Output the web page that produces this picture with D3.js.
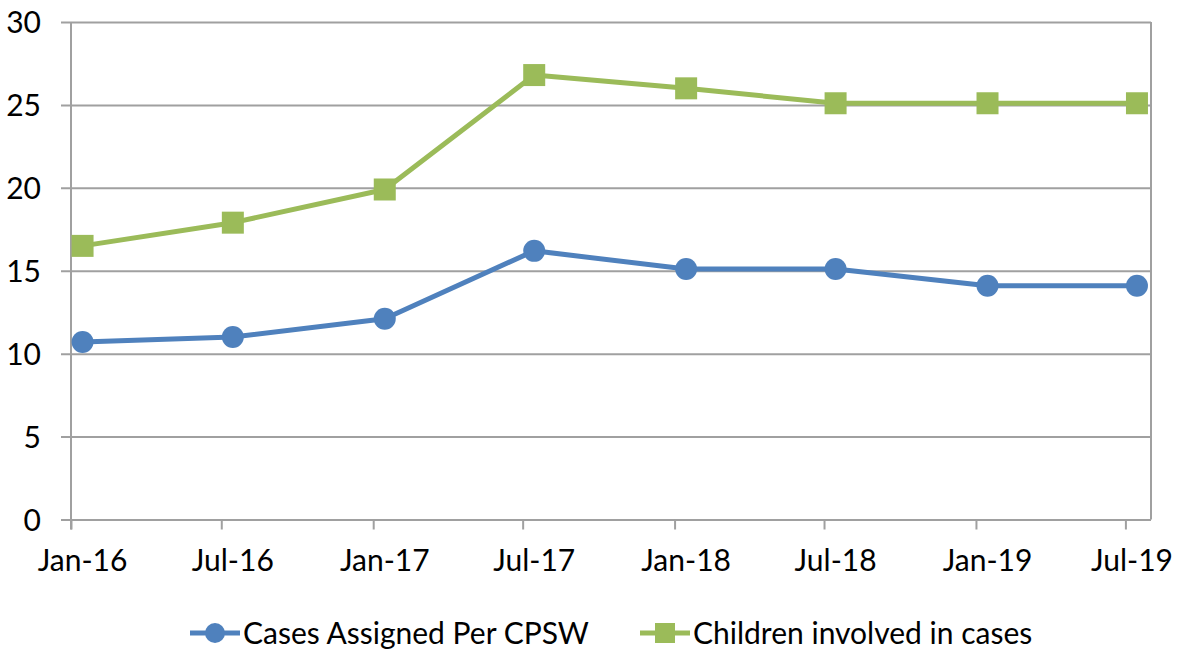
<!DOCTYPE html>
<html><head><meta charset="utf-8">
<script src="https://cdn.jsdelivr.net/npm/d3@7"></script>
<style>body{margin:0;background:#fff;} svg{display:block;} text{font-family:Lato,"Open Sans",sans-serif;fill:#000;}</style>
</head><body>
<svg id="chart" width="1184" height="652"></svg>
<script>
const dates = ["2016-01-15","2016-07-15","2017-01-15","2017-07-15","2018-01-15","2018-07-15","2019-01-15","2019-07-15"];
const tickLabels = ["Jan-16","Jul-16","Jan-17","Jul-17","Jan-18","Jul-18","Jan-19","Jul-19"];
const tickDates = ["2016-01-01","2016-07-01","2017-01-01","2017-07-01","2018-01-01","2018-07-01","2019-01-01","2019-07-01"];
const casesPerCPSW = [10.7, 11.0, 12.1, 16.2, 15.1, 15.1, 14.1, 14.1];
const childrenInvolved = [16.5, 17.9, 19.9, 26.8, 26.0, 25.1, 25.1, 25.1];
const yTicks = [0, 5, 10, 15, 20, 25, 30];
const seriesNames = ["Cases Assigned Per CPSW", "Children involved in cases"];
const colors = ["#4F81BD", "#9BBB59"];

const parse = d3.timeParse("%Y-%m-%d");
const svg = d3.select("#chart");
const L = 71, R = 1151, T = 22, B = 519.5;
const x = d3.scaleTime().domain([parse("2016-01-01"), parse("2019-08-01")]).range([L, R]);
const y = d3.scaleLinear().domain([0, 30]).range([B, T]);
const grid = "#A0A0A0";
const FS = 30;

// gridlines
const yAxis = d3.axisLeft(y).tickValues(yTicks).tickSize(-(R - L)).tickFormat(d => d);
const gy = svg.append("g").attr("transform", `translate(${L},0)`).call(yAxis);
gy.select(".domain").remove();
gy.selectAll(".tick line").attr("stroke", grid).attr("stroke-width", 2).attr("x1", -10);
gy.selectAll(".tick text").attr("font-size", FS).attr("font-family", "Lato").attr("fill", "#000").attr("dy", "0.35em").attr("x", -30);

// frame
svg.append("line").attr("x1", L).attr("x2", L).attr("y1", T).attr("y2", B + 10).attr("stroke", grid).attr("stroke-width", 2);
svg.append("line").attr("x1", R).attr("x2", R).attr("y1", T).attr("y2", B).attr("stroke", grid).attr("stroke-width", 2);

// x axis ticks
const xAxis = d3.axisBottom(x).tickValues(tickDates.map(parse)).tickSize(10).tickFormat("");
const gx = svg.append("g").attr("transform", `translate(0,${B})`).call(xAxis);
gx.select(".domain").remove();
gx.selectAll(".tick line").attr("stroke", grid).attr("stroke-width", 2);

// x labels centered on mid-month
svg.append("g").selectAll("text").data(tickLabels).join("text")
  .attr("x", (d, i) => Math.min(x(parse(dates[i])), 1132))
  .attr("y", 571)
  .attr("text-anchor", "middle")
  .attr("font-size", FS)
  .text(d => d);

const line = d3.line().x((d, i) => x(parse(dates[i]))).y(d => y(d));
[childrenInvolved, casesPerCPSW].forEach((vals, k) => {
  const idx = k === 0 ? 1 : 0;
  svg.append("path").datum(vals).attr("d", line).attr("fill", "none")
    .attr("stroke", colors[idx]).attr("stroke-width", 5).attr("stroke-linejoin", "round");
  const g = svg.append("g");
  if (idx === 0) {
    g.selectAll("circle").data(vals).join("circle")
      .attr("cx", (d, i) => x(parse(dates[i]))).attr("cy", d => y(d)).attr("r", 11).attr("fill", colors[0]);
  } else {
    g.selectAll("rect").data(vals).join("rect")
      .attr("x", (d, i) => x(parse(dates[i])) - 11).attr("y", d => y(d) - 11)
      .attr("width", 22).attr("height", 22).attr("fill", colors[1]);
  }
});

// legend
const legY = 633;
const leg = [{x: 190, name: seriesNames[0], c: colors[0], shape: "circle"}, {x: 640, name: seriesNames[1], c: colors[1], shape: "rect"}];
leg.forEach(l => {
  svg.append("line").attr("x1", l.x).attr("x2", l.x + 50).attr("y1", legY).attr("y2", legY).attr("stroke", l.c).attr("stroke-width", 5);
  if (l.shape === "circle") svg.append("circle").attr("cx", l.x + 25).attr("cy", legY).attr("r", 10).attr("fill", l.c);
  else svg.append("rect").attr("x", l.x + 15).attr("y", legY - 10).attr("width", 20).attr("height", 20).attr("fill", l.c);
  svg.append("text").attr("x", l.x + 53).attr("y", legY).attr("dy", "0.35em").attr("font-size", FS).text(l.name);
});
</script>
</body></html>
